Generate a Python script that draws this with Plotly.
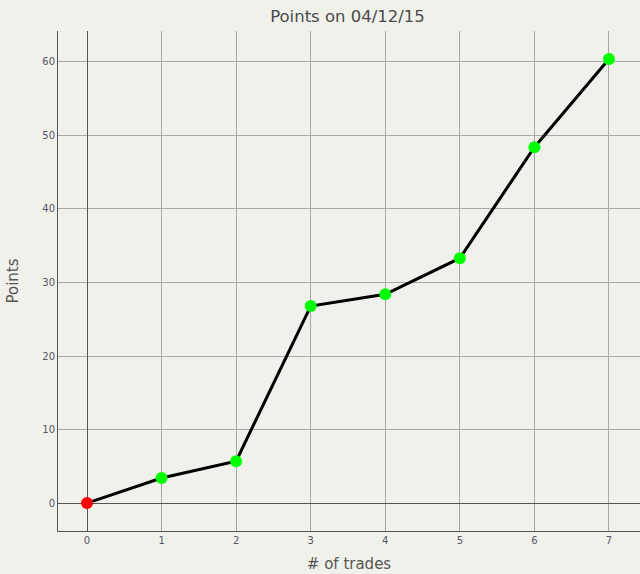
import plotly.graph_objects as go

# --- DATA ---
trades = [0, 1, 2, 3, 4, 5, 6, 7]
points = [0, 3.4, 5.7, 26.8, 28.4, 33.3, 48.4, 60.4]
point_colors = ["#ff0000", "#00ff00", "#00ff00", "#00ff00", "#00ff00", "#00ff00", "#00ff00", "#00ff00"]

BG = "#f1f1ec"
FONT = "DejaVu Sans"

fig = go.Figure()
fig.add_trace(go.Scatter(
    x=trades, y=points,
    mode="lines+markers",
    line=dict(color="black", width=3),
    marker=dict(size=12, color=point_colors),
    showlegend=False,
))

axis_common = dict(
    showgrid=True, gridcolor="#a8a8a8", gridwidth=1,
    zeroline=True, zerolinecolor="#555555", zerolinewidth=1,
    showline=True, linecolor="#555555", linewidth=1,
    tickfont=dict(family=FONT, size=10, color="#555566"),
    ticks="",
)

fig.update_layout(
    width=640, height=574, autosize=False,
    paper_bgcolor=BG, plot_bgcolor=BG,
    margin=dict(l=58, r=0, t=31, b=43),
    title=dict(text="Points on 04/12/15", x=0.543, xanchor="center", y=0.982, yanchor="top",
               font=dict(family=FONT, size=16.5, color="#4a4a4a")),
    xaxis=dict(axis_common, range=[-0.389, 7.416], dtick=1,
               title=dict(text="# of trades", font=dict(family=FONT, size=15, color="#555555"), standoff=13)),
    yaxis=dict(axis_common, range=[-3.8, 64.2], dtick=10,
               title=dict(text="Points", font=dict(family=FONT, size=15, color="#555555"), standoff=20)),
)

# drop the default page margin so the figure fills the window
fig.write_html("out.html", config={"displayModeBar": False},
               post_script="document.body.style.margin='0';document.body.style.overflow='hidden';")
